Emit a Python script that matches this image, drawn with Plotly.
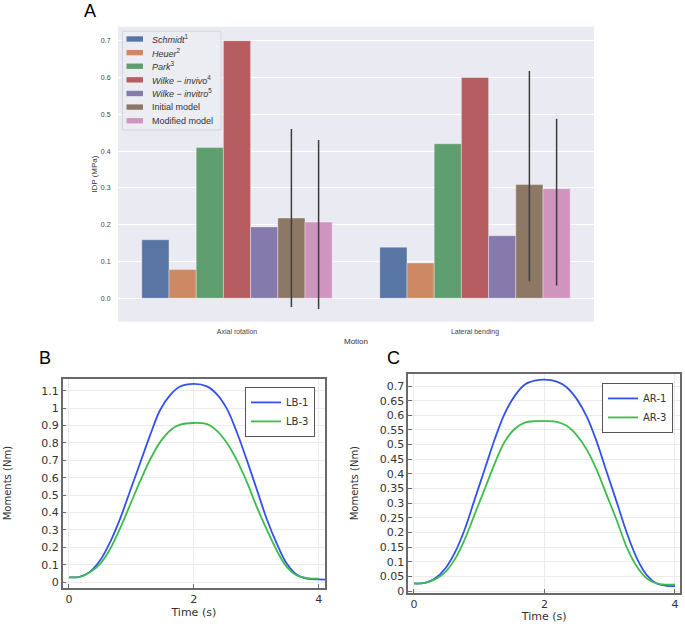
import plotly.graph_objects as go

W, H = 685, 629

# ---- panel A: IDP bar chart ----
motions = ["Axial rotation", "Lateral bending"]
studies = ["<i>Schmidt</i><sup>1</sup>", "<i>Heuer</i><sup>2</sup>", "<i>Park</i><sup>3</sup>",
           "<i>Wilke − invivo</i><sup>4</sup>", "<i>Wilke − invitro</i><sup>5</sup>",
           "Initial model", "Modified model"]
axial_idp = [0.159, 0.078, 0.41, 0.70, 0.194, 0.218, 0.207]
lateral_idp = [0.139, 0.096, 0.42, 0.60, 0.17, 0.309, 0.298]
# error bars (only the two models have them): (axial, lateral)
err_plus = {5: [0.242, 0.309], 6: [0.223, 0.190]}
err_minus = {5: [0.242, 0.263], 6: [0.236, 0.263]}
bar_colors = ["#5975a4", "#cc8963", "#5f9e6e", "#b55d60", "#857aab", "#8d7866", "#d095bf"]

# ---- panel B: lateral bending moments ----
t_b = [0, 0.17, 0.33, 0.5, 0.66, 0.82, 0.98, 1.14, 1.3, 1.46, 1.63, 1.78, 2.0,
       2.21, 2.37, 2.53, 2.69, 2.85, 3.01, 3.17, 3.33, 3.49, 3.65, 3.81, 4.0, 4.1]
lb1 = [0.027, 0.03, 0.057, 0.125, 0.23, 0.365, 0.525, 0.685, 0.845, 0.99, 1.08, 1.125, 1.14,
       1.126, 1.08, 0.996, 0.86, 0.70, 0.53, 0.36, 0.22, 0.105, 0.042, 0.019, 0.015, 0.014]
lb3 = [0.027, 0.03, 0.055, 0.105, 0.19, 0.31, 0.445, 0.58, 0.705, 0.805, 0.875, 0.905, 0.915,
       0.908, 0.87, 0.80, 0.70, 0.575, 0.43, 0.30, 0.18, 0.086, 0.038, 0.023, 0.019, 0.018]

# ---- panel C: axial rotation moments ----
t_c = [0, 0.17, 0.32, 0.48, 0.63, 0.78, 0.93, 1.09, 1.24, 1.39, 1.55, 1.7, 1.85, 2.0,
       2.19, 2.34, 2.49, 2.65, 2.8, 2.95, 3.11, 3.26, 3.42, 3.57, 3.72, 3.87, 4.0]
ar1 = [0.026, 0.028, 0.043, 0.077, 0.133, 0.212, 0.313, 0.42, 0.52, 0.606, 0.668, 0.705, 0.718, 0.722,
       0.715, 0.696, 0.657, 0.595, 0.51, 0.409, 0.302, 0.2, 0.11, 0.054, 0.026, 0.018, 0.017]
ar3 = [0.026, 0.028, 0.04, 0.065, 0.11, 0.178, 0.262, 0.352, 0.437, 0.51, 0.555, 0.575, 0.58, 0.58,
       0.578, 0.564, 0.533, 0.482, 0.414, 0.33, 0.24, 0.15, 0.082, 0.043, 0.026, 0.022, 0.022]

BLUE, GREEN = "#3352ec", "#3cbd4b"


def px(x):
    return min(1.0, max(0.0, x / W))


def py(y):
    return min(1.0, max(0.0, 1 - y / H))


fig = go.Figure()

for i, name in enumerate(studies):
    ey = None
    if i in err_plus:
        ey = dict(type="data", array=err_plus[i], arrayminus=err_minus[i],
                  color="#3d3d3d", thickness=1.5, width=0)
    fig.add_trace(go.Bar(
        x=motions, y=[axial_idp[i], lateral_idp[i]], name=name,
        marker=dict(color=bar_colors[i], line=dict(color="rgba(255,255,255,0.6)", width=0.6)),
        error_y=ey, showlegend=False, xaxis="x", yaxis="y",
    ))

for t, m, nm, col, ax, lg in [
    (t_b, lb1, "LB-1", BLUE, "2", "legend2"), (t_b[:-1], lb3[:-1], "LB-3", GREEN, "2", "legend2"),
    (t_c, ar1, "AR-1", BLUE, "3", "legend3"), (t_c, ar3, "AR-3", GREEN, "3", "legend3"),
]:
    fig.add_trace(go.Scatter(x=t, y=m, name=nm, mode="lines", line=dict(color=col, width=1.8, shape="spline"),
                             xaxis="x" + ax, yaxis="y" + ax, legend=lg))

sea_font = dict(family="Liberation Sans, Arial, sans-serif", size=7, color="#444444")
com_font = dict(family="DejaVu Sans, sans-serif", size=11, color="#333333")

com_axis = dict(showline=True, mirror=True, linecolor="#6a6a6a", linewidth=1.5,
                ticks="inside", ticklen=4, tickcolor="#6a6a6a", showgrid=True,
                gridcolor="#ebebeb", gridwidth=1, zeroline=False, tickfont=com_font)

fig.update_layout(
    width=W, height=H, margin=dict(l=0, r=0, t=0, b=0),
    paper_bgcolor="white", plot_bgcolor="rgba(0,0,0,0)",
    barmode="group", bargap=0.2, bargroupgap=0,
    xaxis=dict(domain=[px(118), px(594)], range=[-0.5, 1.5], anchor="y", showgrid=False,
               zeroline=False, ticks="outside", ticklen=3, tickcolor="rgba(0,0,0,0)", tickfont=sea_font,
               title=dict(text="Motion", font=dict(family=sea_font["family"], size=8, color="#333"), standoff=3)),
    yaxis=dict(domain=[py(324), py(27)], range=[-0.063, 0.738], anchor="x", dtick=0.1, tick0=0,
               tickformat=".1f", showgrid=True, gridcolor="white", gridwidth=1, zeroline=False,
               ticks="outside", ticklen=5, tickcolor="rgba(0,0,0,0)", tickfont=sea_font,
               title=dict(text="IDP (MPa)", font=dict(family=sea_font["family"], size=8, color="#333"), standoff=2)),
    xaxis2=dict(com_axis, domain=[px(62.7), px(325)], range=[-0.1, 4.1], anchor="y2",
                tickvals=[0, 2, 4], title=dict(text="Time (s)", font=com_font, standoff=1)),
    yaxis2=dict(com_axis, domain=[py(592.3), py(381.7)], range=[-0.032, 1.17], anchor="x2", dtick=0.1, tick0=0,
                title=dict(text="Moments (Nm)", font=dict(com_font, size=10), standoff=28)),
    xaxis3=dict(com_axis, domain=[px(408.3), px(680)], range=[-0.087, 4.077], anchor="y3",
                tickvals=[0, 2, 4], title=dict(text="Time (s)", font=com_font, standoff=1)),
    yaxis3=dict(com_axis, domain=[py(597.3), py(376.7)], range=[-0.005, 0.742], anchor="x3", dtick=0.05, tick0=0,
                title=dict(text="Moments (Nm)", font=dict(com_font, size=10), standoff=19)),
    legend2=dict(x=px(315), y=py(390), xanchor="right", yanchor="top", bgcolor="white",
                 bordercolor="#555555", borderwidth=1, font=dict(com_font, size=10), tracegroupgap=0),
    legend3=dict(x=px(673), y=py(386), xanchor="right", yanchor="top", bgcolor="white",
                 bordercolor="#555555", borderwidth=1, font=dict(com_font, size=10), tracegroupgap=0),
)

# seaborn-style grey background for panel A
fig.add_shape(type="rect", xref="x domain", yref="y domain", x0=0, x1=1, y0=0, y1=1,
              fillcolor="#eaeaf2", line=dict(width=0), layer="below")

# panel A legend (drawn by hand to keep seaborn's compact spacing)
fig.add_shape(type="rect", xref="paper", yref="paper", x0=px(122.5), x1=px(221), y0=py(131), y1=py(31.5),
              fillcolor="rgba(236,236,243,0.9)", line=dict(color="#d4d4dc", width=1), layer="above")
for i, name in enumerate(studies):
    yc = 39.3 + i * 13.73
    fig.add_shape(type="rect", xref="paper", yref="paper", x0=px(126.5), x1=px(143), y0=py(yc + 2.7), y1=py(yc - 2.7),
                  fillcolor=bar_colors[i], line=dict(width=0), layer="above")
    fig.add_annotation(x=px(150), y=py(yc), xref="paper", yref="paper", text=name, showarrow=False,
                       xanchor="left", yanchor="middle", font=dict(family=sea_font["family"], size=9, color="#333"))

for letter, x, y in [("A", 90, 11.5), ("B", 45, 361), ("C", 393, 361)]:
    fig.add_annotation(x=px(x), y=py(y), xref="paper", yref="paper", text=letter, showarrow=False,
                       xanchor="center", yanchor="middle",
                       font=dict(family="Liberation Sans, Arial, sans-serif", size=18, color="black"))

# the default page keeps an 8px body margin; drop it so the figure fills the window
fig.write_html("out.html", config={"displayModeBar": False},
               post_script="document.body.style.margin = '0';")
